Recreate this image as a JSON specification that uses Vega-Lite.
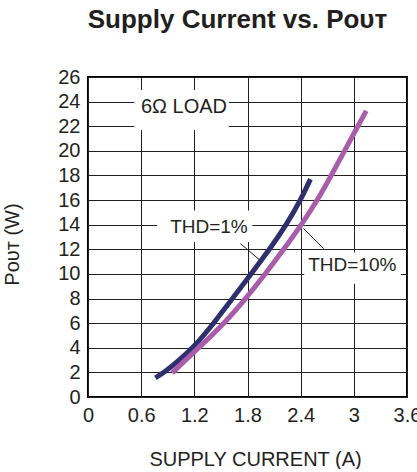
{
  "$schema": "https://vega.github.io/schema/vega-lite/v6.json",
  "width": 319,
  "height": 320,
  "padding": {"left": 2, "top": 7, "right": 0, "bottom": 0},
  "background": "white",
  "title": {
    "text": "Supply Current vs. Pᴏᴜᴛ",
    "font": "Liberation Sans",
    "fontSize": 26,
    "fontWeight": "bold",
    "color": "#231f20",
    "anchor": "middle",
    "offset": 34,
    "dx": -10
  },
  "config": {
    "view": {"stroke": "#000000", "strokeWidth": 2},
    "font": "Liberation Sans",
    "axis": {
      "labelFont": "Liberation Sans",
      "labelFontSize": 20,
      "labelColor": "#231f20",
      "titleFont": "Liberation Sans",
      "titleFontSize": 20,
      "titleFontWeight": "normal",
      "titleColor": "#231f20",
      "ticks": false,
      "domain": false,
      "grid": true,
      "gridColor": "#231f20",
      "gridOpacity": 1,
      "gridWidth": 1,
      "labelPadding": 8
    }
  },
  "datasets": {
    "curves": [
      {"series": "THD=1%", "current": 0.76, "pout": 1.55},
      {"series": "THD=1%", "current": 0.86, "pout": 2.0},
      {"series": "THD=1%", "current": 1.03, "pout": 3.0},
      {"series": "THD=1%", "current": 1.2, "pout": 4.1},
      {"series": "THD=1%", "current": 1.42, "pout": 6.0},
      {"series": "THD=1%", "current": 1.63, "pout": 8.0},
      {"series": "THD=1%", "current": 1.84, "pout": 10.0},
      {"series": "THD=1%", "current": 2.05, "pout": 12.0},
      {"series": "THD=1%", "current": 2.24, "pout": 14.0},
      {"series": "THD=1%", "current": 2.4, "pout": 16.0},
      {"series": "THD=1%", "current": 2.51, "pout": 17.7},
      {"series": "THD=10%", "current": 0.95, "pout": 1.95},
      {"series": "THD=10%", "current": 1.1, "pout": 3.0},
      {"series": "THD=10%", "current": 1.25, "pout": 4.0},
      {"series": "THD=10%", "current": 1.54, "pout": 6.0},
      {"series": "THD=10%", "current": 1.78, "pout": 8.0},
      {"series": "THD=10%", "current": 2.0, "pout": 10.0},
      {"series": "THD=10%", "current": 2.21, "pout": 12.0},
      {"series": "THD=10%", "current": 2.41, "pout": 14.0},
      {"series": "THD=10%", "current": 2.59, "pout": 16.0},
      {"series": "THD=10%", "current": 2.745, "pout": 18.0},
      {"series": "THD=10%", "current": 2.895, "pout": 20.0},
      {"series": "THD=10%", "current": 3.045, "pout": 22.0},
      {"series": "THD=10%", "current": 3.14, "pout": 23.25}
    ],
    "boxes": [
      {"current": 0.52, "current2": 1.59, "pout": 21.7, "pout2": 24.95},
      {"current": 0.78, "current2": 1.855, "pout": 12.6, "pout2": 15.15},
      {"current": 2.44, "current2": 3.53, "pout": 9.2, "pout2": 11.75}
    ],
    "leaders": [
      {"current": 1.72, "pout": 12.47, "current2": 1.967, "pout2": 10.95},
      {"current": 2.43, "pout": 13.7, "current2": 2.66, "pout2": 12.05}
    ],
    "labels": [
      {"current": 1.083, "pout": 23.6, "label": "6Ω LOAD", "size": 20},
      {"current": 1.365, "pout": 13.85, "label": "THD=1%", "size": 19},
      {"current": 2.983, "pout": 10.7, "label": "THD=10%", "size": 19}
    ]
  },
  "encoding": {
    "x": {
      "field": "current",
      "type": "quantitative",
      "title": "SUPPLY CURRENT (A)",
      "scale": {"domain": [0, 3.6], "nice": false, "zero": false},
      "axis": {
        "values": [0, 0.6, 1.2, 1.8, 2.4, 3, 3.6],
        "format": "~g",
        "labelFlush": false,
        "titlePadding": 24,
        "titleX": 167
      }
    },
    "y": {
      "field": "pout",
      "type": "quantitative",
      "title": "Pᴏᴜᴛ (W)",
      "scale": {"domain": [0, 26], "nice": false},
      "axis": {
        "values": [0, 2, 4, 6, 8, 10, 12, 14, 16, 18, 20, 22, 24, 26],
        "titlePadding": 35,
        "titleY": 167
      }
    }
  },
  "layer": [
    {
      "data": {"name": "boxes"},
      "mark": {"type": "rect", "fill": "white", "strokeWidth": 0},
      "encoding": {
        "x2": {"field": "current2"},
        "y2": {"field": "pout2"}
      }
    },
    {
      "data": {"name": "leaders"},
      "mark": {"type": "rule", "color": "#231f20", "strokeWidth": 1},
      "encoding": {
        "x2": {"field": "current2"},
        "y2": {"field": "pout2"}
      }
    },
    {
      "data": {"name": "curves"},
      "mark": {"type": "line", "strokeWidth": 5, "interpolate": "basis", "strokeCap": "butt"},
      "encoding": {
        "color": {
          "field": "series",
          "type": "nominal",
          "scale": {"domain": ["THD=1%", "THD=10%"], "range": ["#2e2f6c", "#a85ca9"]},
          "legend": null
        }
      }
    },
    {
      "data": {"name": "labels"},
      "mark": {"type": "text", "align": "center", "baseline": "middle", "font": "Liberation Sans", "color": "#231f20"},
      "encoding": {
        "text": {"field": "label"},
        "size": {"field": "size", "type": "quantitative", "scale": null}
      }
    }
  ]
}
